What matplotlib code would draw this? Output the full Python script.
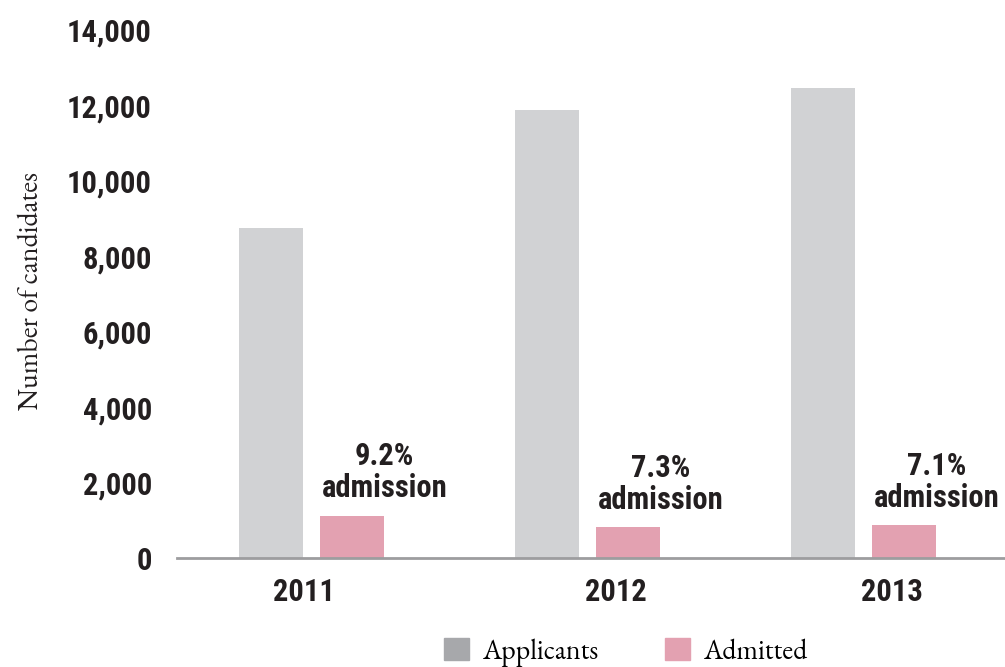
import numpy as np
import matplotlib.pyplot as plt
from matplotlib import font_manager
from matplotlib.patches import Patch
from matplotlib.ticker import FuncFormatter

years = ["2011", "2012", "2013"]
applicants = [8750, 11880, 12460]
admitted = [1120, 820, 875]
rates = ["9.2%", "7.3%", "7.1%"]

gray = "#d1d2d4"
pink = "#e3a1b1"
ink = "#231f20"


def pick(options, default):
    have = {f.name for f in font_manager.fontManager.ttflist}
    for name in options:
        if name in have:
            return [name, default]
    return [default]


cond = pick(["Roboto Condensed", "Barlow Semi Condensed", "Archivo Narrow", "Asap Condensed"], "DejaVu Sans")
serif = pick(["EB Garamond", "Liberation Serif"], "DejaVu Serif")

fig = plt.figure(figsize=(10.05, 6.67), dpi=100)
ax = fig.add_axes([0.176, 0.1634, 0.824, 0.7916])

x = np.arange(len(years))
width = 0.232
offset = 0.293
ax.bar(x, applicants, width, color=gray)
ax.bar(x + offset, admitted, width, color=pink)

# admission rate labels above the pink bars
for i in range(len(years)):
    ax.annotate(rates[i] + "\nadmission", (x[i] + offset + 0.12, admitted[i]),
                xytext=(0, 9), textcoords="offset points", ha="center", va="bottom",
                fontsize=22, fontfamily=cond, fontweight="bold", color=ink,
                linespacing=1.08)

ax.set_xlim(-0.34, 2.66)
ax.set_ylim(0, 14000)
ax.set_yticks(range(0, 14001, 2000))
ax.yaxis.set_major_formatter(FuncFormatter(lambda v, p: f"{int(v):,}"))
ax.set_xticks(x + np.array([0.12, 0.25, 0.25]))
ax.set_xticklabels(years)

for s in ["top", "right", "left"]:
    ax.spines[s].set_visible(False)
ax.spines["bottom"].set_color("#9d9d9f")
ax.spines["bottom"].set_linewidth(2)
ax.tick_params(length=0)
ax.tick_params(axis="y", pad=18)
ax.tick_params(axis="x", pad=14)
for lab in ax.get_yticklabels() + ax.get_xticklabels():
    lab.set_fontfamily(cond)
    lab.set_fontweight("bold")
    lab.set_fontsize(22)
    lab.set_color(ink)

fig.text(0.031, 0.564, "Number of candidates", rotation=90, ha="center", va="center",
         fontsize=20, fontfamily=serif, color=ink)

handles = [Patch(color="#a7a8ab"), Patch(color=pink)]
fig.legend(handles, ["Applicants", "Admitted"], loc="center", bbox_to_anchor=(0.623, 0.022),
           ncol=2, frameon=False, handlelength=0.87, handleheight=0.87, handletextpad=0.5,
           columnspacing=2.4, prop={"family": serif, "size": 20})

fig.savefig("out.png", dpi=100)
